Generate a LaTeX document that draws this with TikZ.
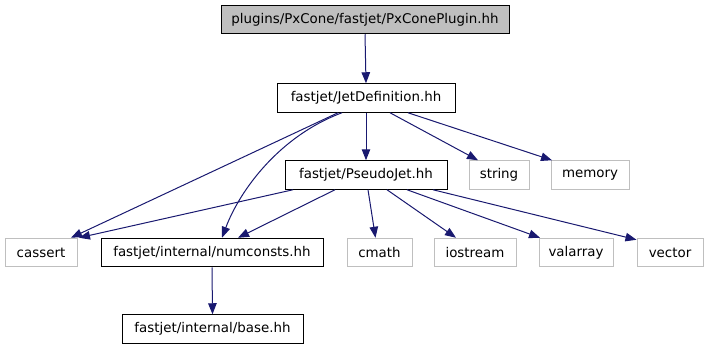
\documentclass[tikz,border=0pt]{standalone}
\usepackage{fontspec}
\setmainfont{DejaVu Sans}
\usetikzlibrary{arrows.meta}
\definecolor{edgeblue}{HTML}{191970}
\definecolor{boxgray}{HTML}{BFBFBF}
\definecolor{lightborder}{HTML}{BFBFBF}
\begin{document}
\begin{tikzpicture}[x=1pt,y=-1pt,
  font=\fontsize{13.4}{16}\selectfont,
  box/.style={draw=black, line width=1pt, inner sep=0pt, minimum height=28.5pt, text=black},
  sysbox/.style={draw=lightborder, line width=1pt, inner sep=0pt, minimum height=28.5pt, text=black},
  dep/.style={draw=edgeblue, line width=1pt, -{Triangle[length=11pt,width=8.5pt]}, color=edgeblue}]
\useasboundingbox (0,0) rectangle (709,349);
\node[box, fill=boxgray, minimum width=288pt] (top) at (365,19.5) {plugins/PxCone/fastjet/PxConePlugin.hh};
\node[box, minimum width=178pt] (jet) at (366,98) {fastjet/JetDefinition.hh};
\node[box, minimum width=162pt] (pseudo) at (366,175) {fastjet/PseudoJet.hh};
\node[sysbox, minimum width=60pt] (string) at (499,175) {string};
\node[sysbox, minimum width=78pt] (memory) at (590,175) {memory};
\node[sysbox, minimum width=72pt] (cassert) at (41,252.5) {cassert};
\node[box, minimum width=222pt] (num) at (212,252.5) {fastjet/internal/numconsts.hh};
\node[sysbox, minimum width=65pt] (cmath) at (379.5,252.5) {cmath};
\node[sysbox, minimum width=82pt] (iostream) at (475,252.5) {iostream};
\node[sysbox, minimum width=74pt] (valarray) at (576,252.5) {valarray};
\node[sysbox, minimum width=66pt] (vector) at (670,252.5) {vector};
\node[box, minimum width=181pt] (base) at (212.5,329) {fastjet/internal/base.hh};

\draw[dep] (top.south) -- (jet.north);
\draw[dep] ([xshift=-28pt]jet.south) -- ([xshift=30pt]cassert.north);
\draw[dep] ([xshift=-24pt]jet.south) .. controls +(-62,23) and +(18,-48) .. ([xshift=10pt]num.north);
\draw[dep] (jet.south) -- (pseudo.north);
\draw[dep] ([xshift=24pt]jet.south) -- ([xshift=-21pt]string.north);
\draw[dep] ([xshift=42pt]jet.south) -- ([xshift=-38pt]memory.north);
\draw[dep] ([xshift=-73pt]pseudo.south) -- ([xshift=38pt]cassert.north);
\draw[dep] ([xshift=-31pt]pseudo.south) -- ([xshift=26pt]num.north);
\draw[dep] ([xshift=2pt]pseudo.south) -- ([xshift=-4pt]cmath.north);
\draw[dep] ([xshift=21pt]pseudo.south) -- ([xshift=-19pt]iostream.north);
\draw[dep] ([xshift=41pt]pseudo.south) -- ([xshift=-36pt]valarray.north);
\draw[dep] ([xshift=67pt]pseudo.south) -- ([yshift=-2pt]vector.north west);
\draw[dep] (num.south) -- (base.north);
\end{tikzpicture}
\end{document}
